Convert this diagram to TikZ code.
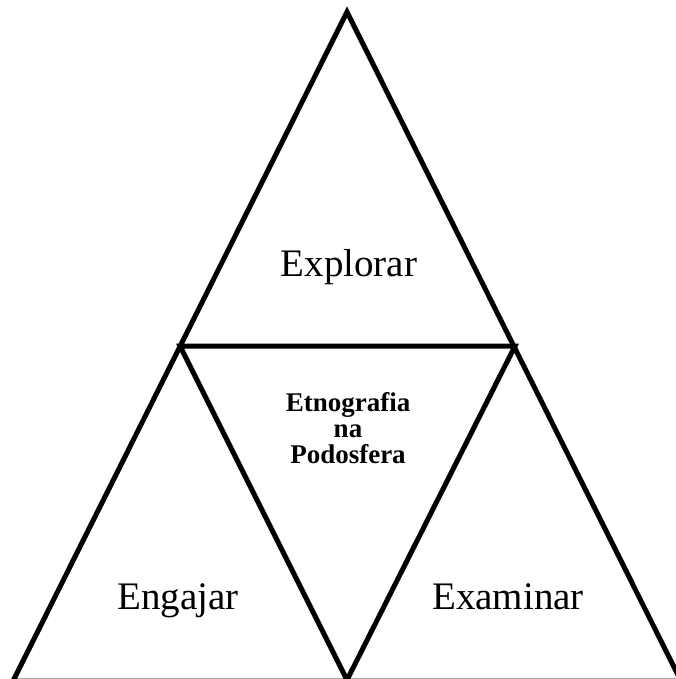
\documentclass[tikz,border=0pt]{standalone}
\usepackage{fontspec}
\setmainfont{Liberation Serif}
\begin{document}
\begin{tikzpicture}[x=1pt,y=-1pt,
  edge/.style={line width=5pt,line join=miter,black},
  lbl/.style={anchor=base,inner sep=0pt,font=\fontsize{39}{42}\selectfont},
  core/.style={inner sep=0pt,align=center,font=\fontsize{27}{26}\selectfont\bfseries}]
\useasboundingbox (0,0) rectangle (676,679);
\clip (0,0) rectangle (676,679);
\coordinate (A) at (347,12);
\coordinate (L) at (180,346);
\coordinate (R) at (515,346);
\coordinate (B) at (347,680);
\coordinate (BL) at (13,681);
\coordinate (BR) at (681,681);
\draw[edge] (A) -- (BL) -- (BR) -- cycle;
\draw[edge] (L) -- (R) -- (B) -- cycle;
\node[lbl] (explorar) at (349,276) {Explorar};
\node[lbl] (engajar) at (178,609) {Engajar};
\node[lbl] (examinar) at (508,609) {Examinar};
\node[core,anchor=base] (etno) at (348,463) {Etnografia\\na\\Podosfera};
\end{tikzpicture}
\end{document}
